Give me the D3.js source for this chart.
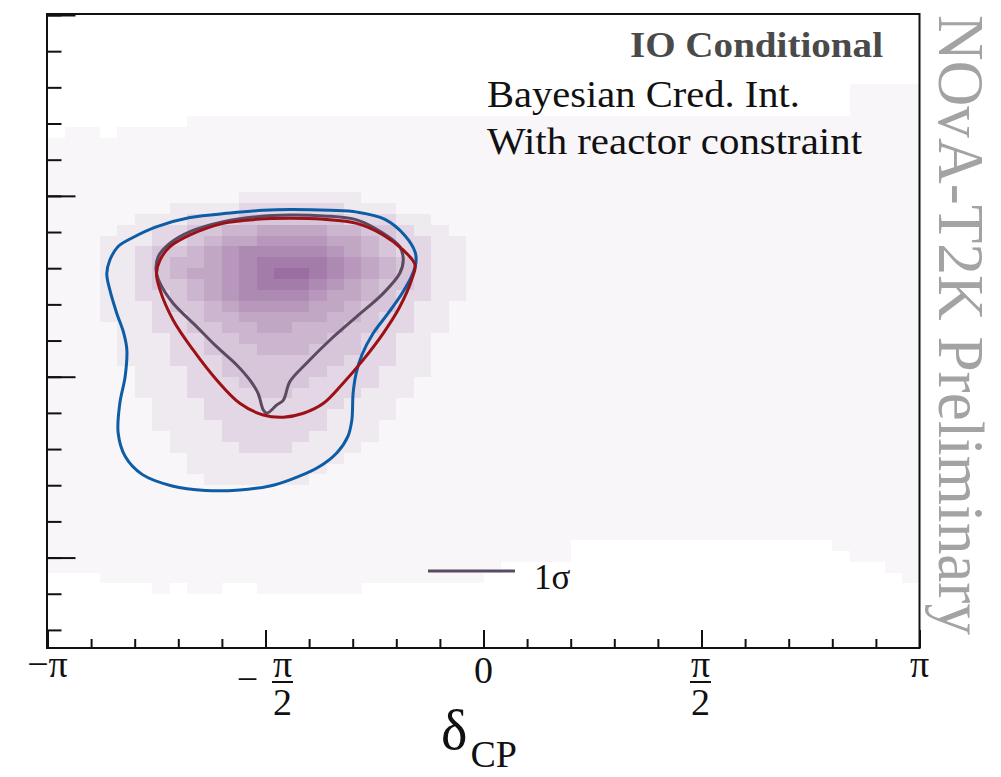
<!DOCTYPE html>
<html>
<head>
<meta charset="utf-8">
<title>NOvA-T2K IO Conditional</title>
<script src="https://cdn.jsdelivr.net/npm/d3@7"></script>
<style>
  body { margin: 0; background: #fff; }
  svg { display: block; font-family: "Liberation Serif", "Times New Roman", serif; }
</style>
</head>
<body>
<svg id="chart" width="1001" height="777"></svg>
<script>
// posterior histogram: 50 δCP bins over [-π, π], y bins 0.006 wide from 0.35
const deltaBins = 50;
const yBinStart = 0.35;
const yBinWidth = 0.006;

// one string per y bin, top bin first. '_' or missing = empty bin,
// '.' = faint tail, '1'..'9' = posterior density level
const densityRows = [
  '', '', '', '', '', '',
  '______________________________________________....',
  '______________________________________________....',
  '______________________________________________....',
  '________..........................................',
  '_.._..............................................',
  '..................................................',
  '..................................................',
  '..................................................',
  '..................................................',
  '..................................................',
  '...........1111111................................',
  '.......1111222222111..............................',
  '.....11122233333322211............................',
  '....1122334455554433211...........................',
  '...111223455666655432211..........................',
  '...112334567777765432211..........................',
  '...112344567888876543211..........................',
  '...112345567899876543211..........................',
  '...112334567888765433211..........................',
  '...112234567777655432211..........................',
  '...11123345666655433211...........................',
  '...11122344555554432211...........................',
  '....1122334455444332211...........................',
  '....111223344444332211............................',
  '....111223334443332211............................',
  '....111222333333322211............................',
  '.....11122333333222111............................',
  '.....1112223333222211.............................',
  '.....1112222332222111.............................',
  '......11122222222111..............................',
  '......11122222221111..............................',
  '......1111222222111...............................',
  '.......111222221111...............................',
  '.......11112221111................................',
  '........111111111.................................',
  '........11111111..................................',
  '.........111111...................................',
  '..................................................',
  '..................................................',
  '..................................................',
  '..................................................',
  '..................................................',
  '.............................._______________.....',
  '..............................________________....',
  '..........................______________________..',
  '___......................________________________.',
  '______._..__......',
  '', '', '', '', ''
];
const densityKey = '_.123456789';

// contours as [δCP / π, y]
const outerContour = [
  [-0.506, 0.592], [-0.444, 0.5925], [-0.352, 0.592], [-0.290, 0.591], [-0.226, 0.587],
  [-0.180, 0.578], [-0.157, 0.569], [-0.155, 0.563], [-0.164, 0.556], [-0.187, 0.546],
  [-0.219, 0.535], [-0.253, 0.524], [-0.279, 0.512], [-0.292, 0.502], [-0.299, 0.491],
  [-0.302, 0.476], [-0.311, 0.467], [-0.336, 0.458], [-0.382, 0.4495], [-0.444, 0.443],
  [-0.490, 0.4396], [-0.559, 0.4374], [-0.637, 0.4371], [-0.714, 0.4396], [-0.783, 0.446],
  [-0.822, 0.456], [-0.838, 0.469], [-0.834, 0.4855], [-0.822, 0.500], [-0.818, 0.515],
  [-0.825, 0.524], [-0.841, 0.535], [-0.857, 0.548], [-0.864, 0.557], [-0.857, 0.5645],
  [-0.838, 0.572], [-0.804, 0.577], [-0.749, 0.583], [-0.673, 0.588], [-0.581, 0.5905]
];
const redContour = [
  [-0.444, 0.5876], [-0.367, 0.587], [-0.291, 0.5848], [-0.230, 0.5784], [-0.184, 0.570],
  [-0.157, 0.5618], [-0.165, 0.5535], [-0.192, 0.5387], [-0.230, 0.524], [-0.276, 0.5093],
  [-0.322, 0.4964], [-0.367, 0.4853], [-0.413, 0.4798], [-0.459, 0.4776], [-0.505, 0.4788],
  [-0.559, 0.4853], [-0.612, 0.4982], [-0.666, 0.5148], [-0.712, 0.5314], [-0.742, 0.548],
  [-0.750, 0.5572], [-0.742, 0.5645], [-0.719, 0.5719], [-0.673, 0.5784], [-0.597, 0.5848],
  [-0.520, 0.587]
];
const sigmaContour = [
  [-0.444, 0.5894], [-0.367, 0.5889], [-0.291, 0.5867], [-0.230, 0.5793], [-0.192, 0.5719],
  [-0.184, 0.5645], [-0.192, 0.5572], [-0.230, 0.5461], [-0.291, 0.5332], [-0.352, 0.5203],
  [-0.406, 0.5074], [-0.444, 0.4973], [-0.459, 0.4871], [-0.474, 0.4844], [-0.497, 0.4798],
  [-0.505, 0.4816], [-0.517, 0.4908], [-0.536, 0.4982], [-0.566, 0.5065], [-0.612, 0.5166],
  [-0.658, 0.5277], [-0.712, 0.5406], [-0.742, 0.5517], [-0.751, 0.559], [-0.746, 0.5664],
  [-0.719, 0.5738], [-0.673, 0.5802], [-0.597, 0.5857], [-0.520, 0.5885]
];

// x tick labels, positions in units of π
const xTickPi = [-1, -0.5, 0, 0.5, 1];
const xTickNum = ['−π', 'π', '0', 'π', 'π'];
const xTickDen = ['', '2', '', '2', ''];
const xTickSign = ['', '−', '', '', ''];

const titleLines = ['IO Conditional', 'Bayesian Cred. Int.', 'With reactor constraint'];
const legendLabel = '1σ';
const watermark = 'NOvA-T2K Preliminary';

const svg = d3.select('#chart');
const plot = { left: 47.5, right: 919.5, top: 15, bottom: 648 };

const x = d3.scaleLinear().domain([-Math.PI, Math.PI]).range([plot.left, plot.right]);
const y = d3.scaleLinear().domain([0.35, 0.70]).range([plot.bottom, plot.top]);
const color = d3.scalePow().exponent(0.85).domain([0, 9]).range(['#ffffff', '#9a6ea0']);

svg.append('clipPath').attr('id', 'plot-clip')
  .append('rect')
  .attr('x', plot.left).attr('y', plot.top)
  .attr('width', plot.right - plot.left).attr('height', plot.bottom - plot.top);

// histogram cells
const deltaStep = 2 * Math.PI / deltaBins;
const cells = [];
densityRows.forEach((row, i) => {
  const r = densityRows.length - 1 - i;
  for (let k = 0; k < row.length; k++) {
    const idx = densityKey.indexOf(row[k]);
    if (idx <= 0) continue;
    cells.push({ k, r, level: idx === 1 ? 0.35 : idx - 1 });
  }
});

svg.append('g')
  .attr('clip-path', 'url(#plot-clip)')
  .attr('shape-rendering', 'crispEdges')
  .selectAll('rect')
  .data(cells)
  .join('rect')
  .attr('x', d => x(-Math.PI + d.k * deltaStep))
  .attr('y', d => y(yBinStart + (d.r + 1) * yBinWidth))
  .attr('width', d => x(-Math.PI + (d.k + 1) * deltaStep) - x(-Math.PI + d.k * deltaStep) + 0.5)
  .attr('height', d => y(yBinStart + d.r * yBinWidth) - y(yBinStart + (d.r + 1) * yBinWidth) + 0.5)
  .attr('fill', d => color(d.level));

// contours
const contourLine = d3.line()
  .x(d => x(d[0] * Math.PI))
  .y(d => y(d[1]))
  .curve(d3.curveCatmullRomClosed.alpha(0.5));

const contours = [
  { pts: outerContour, stroke: '#0d5ca6' },
  { pts: sigmaContour, stroke: '#5b4b62' },
  { pts: redContour, stroke: '#9b1115' }
];
svg.append('g')
  .attr('clip-path', 'url(#plot-clip)')
  .selectAll('path')
  .data(contours)
  .join('path')
  .attr('d', d => contourLine(d.pts))
  .attr('fill', 'none')
  .attr('stroke', d => d.stroke)
  .attr('stroke-width', 3);

// axes: ticks only, frame drawn separately
const xMinor = d3.range(-10, 11).map(i => i * Math.PI / 10);
const xMajor = xTickPi.map(v => v * Math.PI);
const yMinor = d3.range(18).map(i => 0.36 + i * 0.02);
const yMajor = [0.4, 0.5, 0.6, 0.7];

function styleAxis(g) {
  g.select('.domain').remove();
  g.selectAll('.tick line').attr('stroke', '#111').attr('stroke-width', 2);
}

svg.append('g').attr('transform', `translate(0,${plot.bottom})`)
  .call(d3.axisTop(x).tickValues(xMinor).tickSize(9).tickFormat(''))
  .call(styleAxis);
svg.append('g').attr('transform', `translate(0,${plot.bottom})`)
  .call(d3.axisTop(x).tickValues(xMajor).tickSize(18).tickFormat(''))
  .call(styleAxis);
svg.append('g').attr('transform', `translate(${plot.left},0)`)
  .call(d3.axisRight(y).tickValues(yMinor).tickSize(14).tickFormat(''))
  .call(styleAxis);
svg.append('g').attr('transform', `translate(${plot.left},0)`)
  .call(d3.axisRight(y).tickValues(yMajor).tickSize(28).tickFormat(''))
  .call(styleAxis);

svg.append('rect')
  .attr('x', plot.left - 0.5).attr('y', plot.top - 1)
  .attr('width', plot.right - plot.left + 0.5).attr('height', plot.bottom - plot.top + 1)
  .attr('fill', 'none').attr('stroke', '#111').attr('stroke-width', 2);

// x tick labels
const labels = svg.append('g').attr('font-size', 38).attr('fill', '#111');
xTickPi.forEach((v, i) => {
  const cx = x(v * Math.PI);
  if (!xTickDen[i]) {
    labels.append('text')
      .attr('x', cx).attr('y', xTickNum[i] === '0' ? 683 : 677)
      .attr('text-anchor', 'middle')
      .text(xTickNum[i]);
    return;
  }
  const fx = xTickSign[i] ? cx + 17 : cx - 1;
  if (xTickSign[i]) {
    labels.append('text').attr('x', cx - 18).attr('y', 692)
      .attr('text-anchor', 'middle').text(xTickSign[i]);
  }
  labels.append('text').attr('x', fx).attr('y', 677)
    .attr('text-anchor', 'middle').text(xTickNum[i]);
  labels.append('line')
    .attr('x1', fx - 10.5).attr('x2', fx + 10.5)
    .attr('y1', 682).attr('y2', 682)
    .attr('stroke', '#111').attr('stroke-width', 2);
  labels.append('text').attr('x', fx).attr('y', 715)
    .attr('text-anchor', 'middle').text(xTickDen[i]);
});

// axis title
const title = svg.append('text').attr('x', 441).attr('y', 749).attr('fill', '#111');
title.append('tspan').attr('font-size', 56).text('δ');
title.append('tspan').attr('font-size', 38).attr('dx', 3).attr('dy', 18).text('CP');

// legend
svg.append('line')
  .attr('x1', 428).attr('x2', 515).attr('y1', 571).attr('y2', 571)
  .attr('stroke', '#5b4b62').attr('stroke-width', 3);
svg.append('text').attr('x', 534).attr('y', 589)
  .attr('font-size', 35).attr('fill', '#111').text(legendLabel);

// labels in the top right
svg.append('text').attr('x', 883).attr('y', 57)
  .attr('text-anchor', 'end').attr('font-weight', 'bold')
  .attr('font-size', 36).attr('fill', '#4a4a4a')
  .attr('textLength', 253).attr('lengthAdjust', 'spacingAndGlyphs')
  .text(titleLines[0]);
svg.append('text').attr('x', 487).attr('y', 107)
  .attr('font-size', 37).attr('fill', '#111')
  .attr('textLength', 313).attr('lengthAdjust', 'spacingAndGlyphs')
  .text(titleLines[1]);
svg.append('text').attr('x', 487).attr('y', 154)
  .attr('font-size', 37).attr('fill', '#111')
  .attr('textLength', 375).attr('lengthAdjust', 'spacingAndGlyphs')
  .text(titleLines[2]);

// vertical watermark
svg.append('text')
  .attr('transform', 'translate(939,15) rotate(90)')
  .attr('font-size', 66).attr('fill', '#a3a3a3')
  .attr('textLength', 620).attr('lengthAdjust', 'spacingAndGlyphs')
  .text(watermark);
</script>
</body>
</html>
